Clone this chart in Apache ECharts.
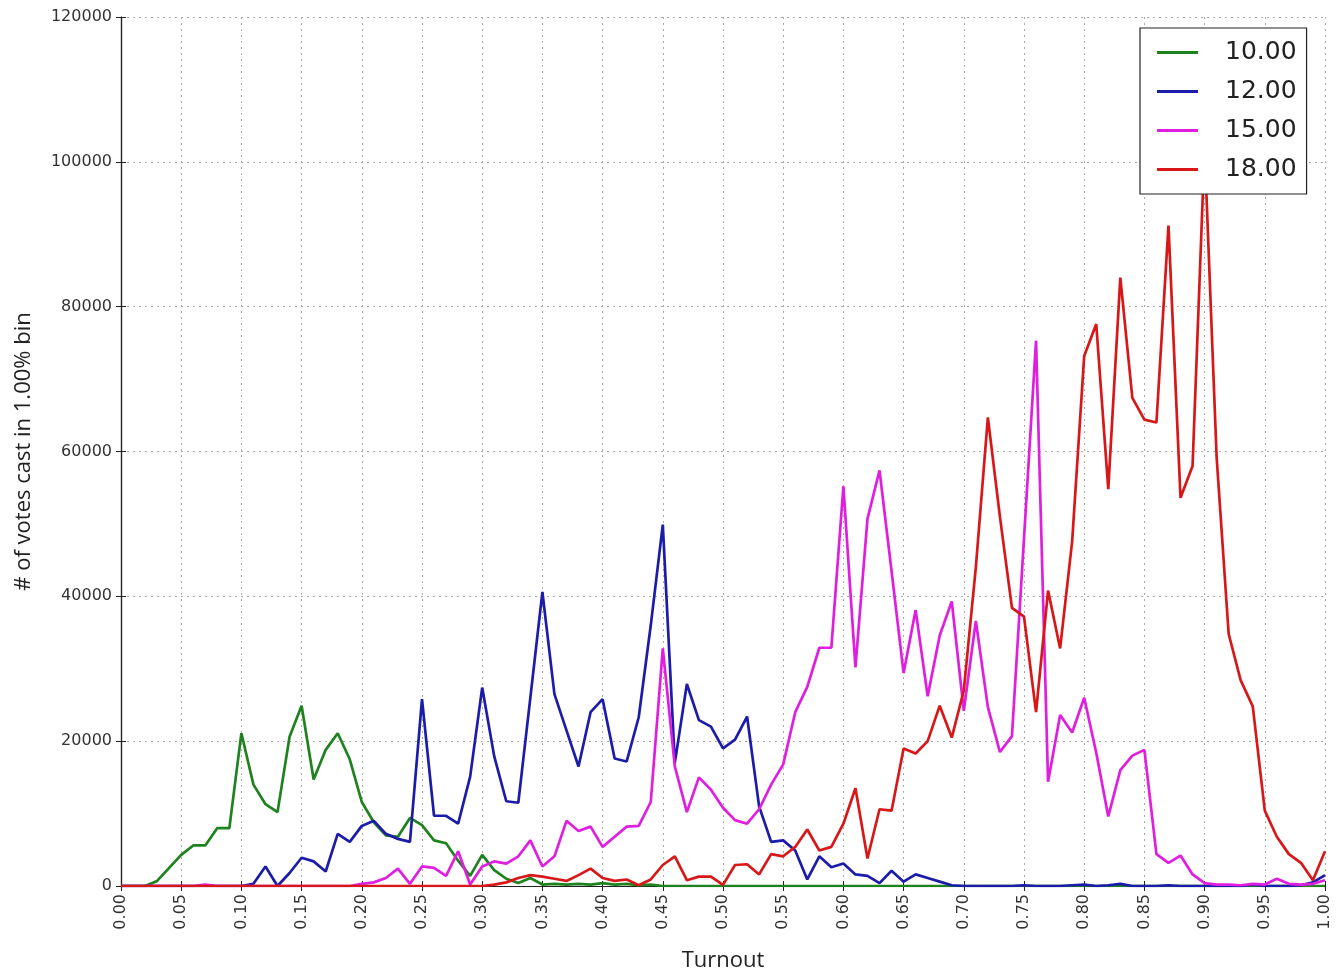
<!DOCTYPE html>
<html>
<head>
<meta charset="utf-8">
<script src="https://cdn.jsdelivr.net/npm/echarts@6/dist/echarts.min.js"></script>
<style>html,body{margin:0;padding:0;background:#fff}#c{width:1336px;height:977px}</style>
</head>
<body>
<div id="c"></div>
<script>
// Turnout bins 0.00 .. 1.00 step 0.01 (101 bins)
const turnout = Array.from({length: 101}, (_, i) => +(i / 100).toFixed(2));
const seriesNames = ['10.00', '12.00', '15.00', '18.00'];
const xTicks = ['0.00','0.05','0.10','0.15','0.20','0.25','0.30','0.35','0.40','0.45','0.50','0.55','0.60','0.65','0.70','0.75','0.80','0.85','0.90','0.95','1.00'];
const yTicks = [0, 20000, 40000, 60000, 80000, 100000, 120000];

const votes1000 = [0,0,0,700,2500,4300,5600,5600,8000,8000,
  21100,14000,11300,10200,20600,24900,14700,18800,21100,17500,
  11600,8800,7000,6800,9400,8400,6300,5900,3500,1400,
  4300,2200,1000,400,1100,200,300,200,300,200,
  400,200,300,100,200,0,0,0,0,0,
  0,0,0,0,0,0,0,0,0,0,
  0,0,0,0,0,0,0,0,0,0,
  0,0,0,0,0,0,0,0,0,0,
  0,0,0,0,0,0,0,0,0,0,
  0,0,0,0,0,0,0,0,0,0,
  0];
const votes1200 = [0,0,0,0,0,0,0,0,0,0,
  0,300,2700,0,1800,3900,3400,2000,7200,6100,
  8300,9000,7200,6500,6100,25800,9700,9700,8600,15100,
  27400,17900,11700,11500,26000,40600,26500,21500,16500,24000,
  25800,17600,17200,23300,36000,49900,17000,27900,22900,22000,
  19000,20200,23400,11000,6100,6300,4900,900,4100,2600,
  3100,1600,1400,400,2100,600,1600,1100,600,100,
  0,0,0,0,0,100,0,0,0,100,
  200,0,100,300,0,0,0,100,0,0,
  0,0,0,0,200,0,0,0,100,500,
  1500];
const votes1500 = [0,0,0,0,0,0,0,200,0,0,
  0,0,0,0,0,0,0,0,0,0,
  300,500,1100,2400,300,2700,2500,1400,4800,200,
  2700,3400,3100,4100,6300,2700,4100,9000,7600,8200,
  5400,6800,8200,8300,11600,32800,16500,10200,15000,13300,
  10800,9100,8600,10600,14000,16800,24000,27500,32900,32900,
  55200,30200,50700,57400,43500,29400,38100,26200,34600,39300,
  24200,36600,24700,18500,20700,48000,75300,14400,23600,21200,
  26000,18400,9600,16000,18000,18800,4400,3200,4200,1600,
  400,200,200,100,300,200,1000,300,200,300,
  800];
const votes1800 = [0,0,0,0,0,0,0,0,0,0,
  0,0,0,0,0,0,0,0,0,0,
  0,0,0,0,0,0,0,0,0,0,
  0,200,500,1100,1500,1300,1000,700,1500,2400,
  1100,700,900,100,900,2900,4100,800,1300,1300,
  150,2900,3000,1600,4400,4100,5400,7800,4900,5400,
  8600,13500,3800,10600,10400,19000,18300,20000,24900,20500,
  27000,44000,64700,51000,38400,37200,24000,40800,32800,47600,
  73200,77600,54800,84000,67400,64400,64000,91200,53600,58000,
  102000,59200,34800,28400,24800,10400,6800,4400,3200,800,
  4800];

const colors = ['#1e831e', '#1c1caa', '#e01ee0', '#d81818'];
const seriesData = [votes1000, votes1200, votes1500, votes1800];

const chart = echarts.init(document.getElementById('c'), null, {renderer: 'canvas'});
const tickFont = {fontFamily: 'DejaVu Sans', fontSize: 16, color: '#333'};

chart.setOption({
  animation: false,
  backgroundColor: '#fff',
  grid: {left: 121, right: 11, top: 17, bottom: 79, containLabel: false},
  legend: {
    orient: 'vertical',
    left: 1140, top: 28,
    padding: [12, 10, 12, 17],
    itemGap: 14,
    itemWidth: 41, itemHeight: 3,
    icon: 'rect',
    borderColor: '#222', borderWidth: 1.2,
    backgroundColor: '#fff',
    textStyle: {fontFamily: 'DejaVu Sans', fontSize: 25, color: '#222', padding: [0, 0, 0, 22]},
    data: seriesNames,
    z: 10
  },
  xAxis: [{
    type: 'value', min: 0, max: 1, interval: 0.05,
    name: 'Turnout', nameLocation: 'middle', nameGap: 64,
    nameTextStyle: {fontFamily: 'Open Sans', fontSize: 22, color: '#222'},
    axisLine: {show: true, onZero: false, lineStyle: {color: '#222', width: 1.2}},
    axisTick: {show: true, inside: true, length: 5, lineStyle: {color: '#222'}},
    axisLabel: Object.assign({rotate: 90, margin: 8, formatter: v => xTicks[Math.round(v / 0.05)]}, tickFont),
    splitLine: {show: true, lineStyle: {color: '#aaa', type: [2, 4], width: 1}}
  }, {
    type: 'value', min: 0, max: 1, interval: 0.05, position: 'top',
    axisLine: {show: true, lineStyle: {color: '#222', width: 1.2}},
    axisTick: {show: true, inside: true, length: 5, lineStyle: {color: '#222'}},
    axisLabel: {show: false}, splitLine: {show: false}
  }],
  yAxis: [{
    type: 'value', min: 0, max: 120000, interval: 20000,
    name: '# of votes cast in 1.00% bin', nameLocation: 'middle', nameGap: 86,
    nameTextStyle: {fontFamily: 'Open Sans', fontSize: 22, color: '#222'},
    axisLine: {show: true, onZero: false, lineStyle: {color: '#222', width: 1.2}},
    axisTick: {show: true, inside: true, length: 5, lineStyle: {color: '#222'}},
    axisLabel: Object.assign({margin: 9, formatter: v => String(yTicks[Math.round(v / 20000)])}, tickFont),
    splitLine: {show: true, lineStyle: {color: '#aaa', type: [2, 4], width: 1}}
  }, {
    type: 'value', min: 0, max: 120000, interval: 20000, position: 'right',
    axisLine: {show: true, lineStyle: {color: '#222', width: 1.2}},
    axisTick: {show: true, inside: true, length: 5, lineStyle: {color: '#222'}},
    axisLabel: {show: false}, splitLine: {show: false}
  }],
  series: seriesNames.map((name, k) => ({
    name: name,
    type: 'line',
    xAxisIndex: 0, yAxisIndex: 0,
    data: turnout.map((t, i) => [t, seriesData[k][i]]),
    showSymbol: false,
    symbol: 'none',
    color: colors[k],
    lineStyle: {color: colors[k], width: 2.7},
    clip: true,
    z: 2 + k
  }))
});
</script>
</body>
</html>
